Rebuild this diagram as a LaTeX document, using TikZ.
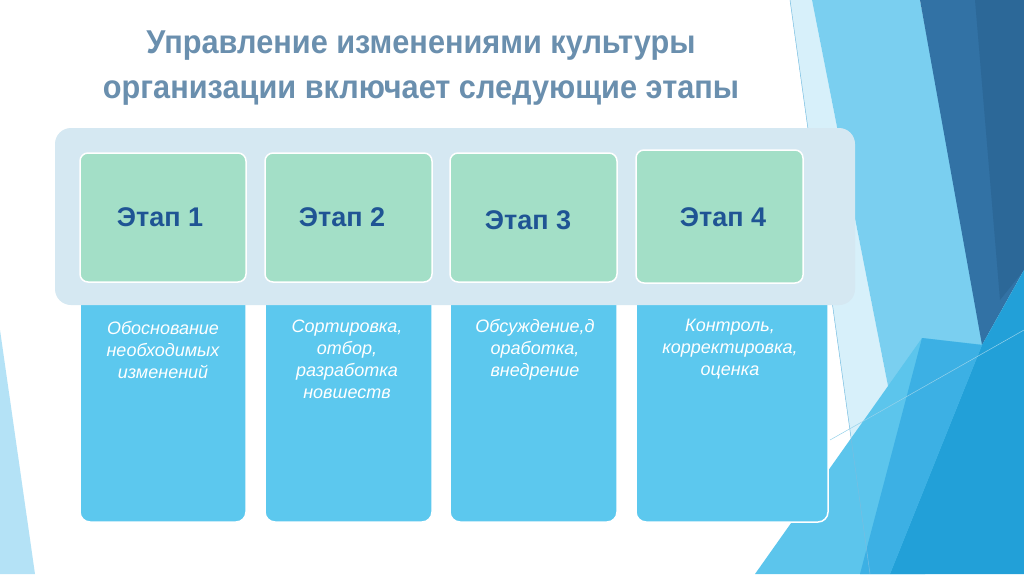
\documentclass[tikz,border=0pt]{standalone}
\usepackage{fontspec}
\setmainfont{Liberation Sans}
\begin{document}
\begin{tikzpicture}[x=1pt,y=-1pt,
  band/.style={fill=bandc,rounded corners=16pt},
  gbox/.style={fill=greenc,draw=white,line width=1.5pt,rounded corners=8pt},
  bbox/.style={fill=bluec,draw=white,line width=1.5pt},
  lab/.style={text=labc,font=\bfseries\fontsize{27}{30}\selectfont},
  body/.style={text=white,align=center,font=\itshape\fontsize{18}{22}\selectfont}]
\definecolor{bandc}{HTML}{D5E8F2}
\definecolor{greenc}{HTML}{A3DFC7}
\definecolor{bluec}{HTML}{5CC8EE}
\definecolor{labc}{HTML}{1F5494}
\definecolor{titc}{HTML}{6A8FAE}
\useasboundingbox (0,0) rectangle (1024,574);
\fill[white] (0,0) rectangle (1024,574);
% decorations
\fill[color={rgb,255:red,215;green,240;blue,250}] (790,0)--(812,0)--(925,574)--(870,574)--cycle;
\fill[color={rgb,255:red,122;green,207;blue,240}] (812,0)--(920,0)--(985,345)--(925,574)--cycle;
\fill[color={rgb,255:red,92;green,197;blue,236}] (755,574)--(922,338)--(985,345)--(925,574)--cycle;
\fill[color={rgb,255:red,50;green,114;blue,165}] (920,0)--(1024,0)--(1024,270)--(982,345)--cycle;
\fill[color={rgb,255:red,44;green,104;blue,152}] (975,0)--(1024,0)--(1024,270)--(1000,300)--cycle;
\fill[color={rgb,255:red,34;green,160;blue,216}] (1024,270)--(982,345)--(890,574)--(1024,574)--cycle;
\fill[color={rgb,255:red,60;green,176;blue,228}] (922,338)--(982,345)--(890,574)--(860,574)--cycle;
\draw[color={rgb,255:red,120;green,190;blue,225},line width=0.5pt] (790,0)--(870,574);
\draw[color={rgb,255:red,150;green,210;blue,235},line width=0.5pt] (830,440)--(1024,330);
\fill[color={rgb,255:red,180;green,226;blue,246}] (0,330)--(35,574)--(0,574)--cycle;
% title
\node[text=titc,font=\bfseries\fontsize{33}{45}\selectfont,align=center,xscale=0.93] (title) at (421,68) {Управление изменениями культуры\\организации включает следующие этапы};
% blue boxes
\draw[bbox,rounded corners=10pt] (80,290) -- (80,522) -- (246,522) -- (246,290);
\draw[bbox,rounded corners=10pt] (265,290) -- (265,522) -- (432,522) -- (432,290);
\draw[bbox,rounded corners=10pt] (450,290) -- (450,522) -- (617,522) -- (617,290);
\draw[bbox,rounded corners=10pt] (636,290) -- (636,522) -- (828,522) -- (828,290);
% band
\fill[band] (55,128) rectangle (855,305);
% green boxes
\draw[gbox] (80,153) rectangle (246,282);
\draw[gbox] (265,153) rectangle (432,282);
\draw[gbox] (450,153) rectangle (617,282);
\draw[gbox] (636,150) rectangle (803,283);
\node[lab] (l1) at (160,217) {Этап 1};
\node[lab] (l2) at (342,217) {Этап 2};
\node[lab] (l3) at (528,220) {Этап 3};
\node[lab] (l4) at (723,217) {Этап 4};
\node[body,anchor=north] (t1) at (163,318) {Обоснование\\необходимых\\изменений};
\node[body,anchor=north] (t2) at (347,316) {Сортировка,\\отбор,\\разработка\\новшеств};
\node[body,anchor=north] (t3) at (535,316) {Обсуждение,д\\оработка,\\внедрение};
\node[body,anchor=north] (t4) at (730,316) {Контроль,\\корректировка,\\оценка};
\end{tikzpicture}
\end{document}
